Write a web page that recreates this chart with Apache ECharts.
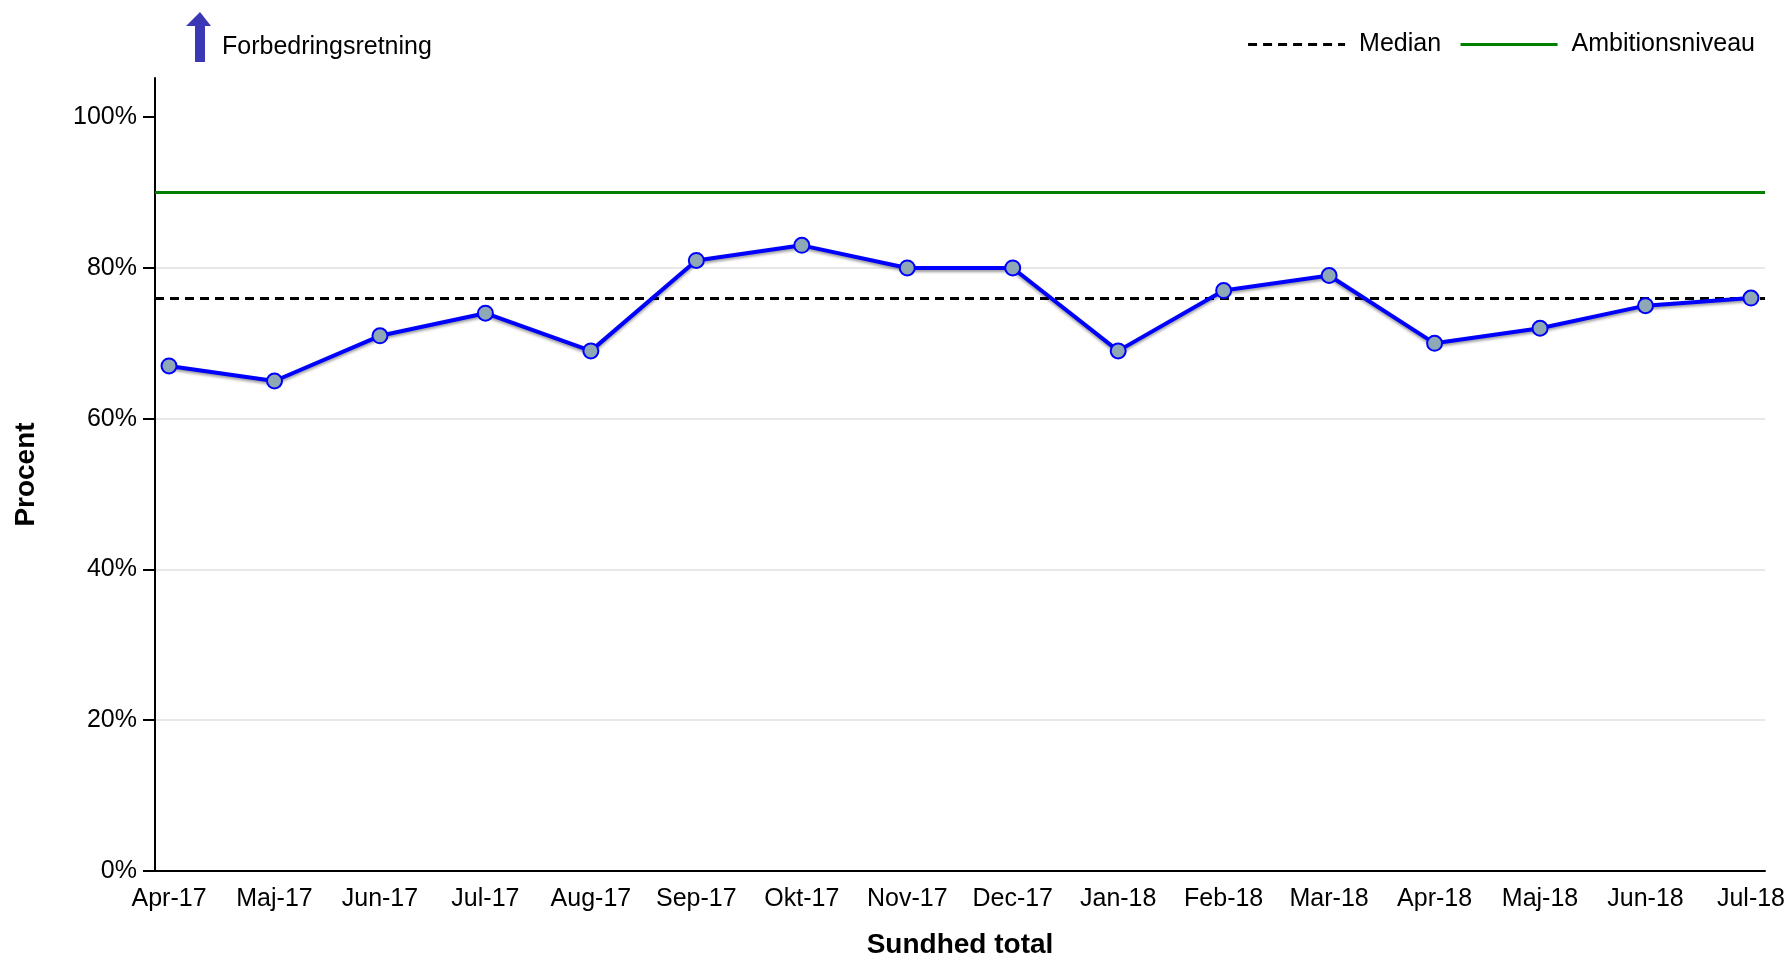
<!DOCTYPE html>
<html>
<head>
<meta charset="utf-8">
<script src="https://cdn.jsdelivr.net/npm/echarts@6/dist/echarts.min.js"></script>
<style>
    html, body { margin: 0; padding: 0; background: #fff; }
    #chart { width: 1789px; height: 956px; }
</style>
</head>
<body>
<div id="chart"></div>
<script>
// måneder og andel (procent)
const MONTHS = ["Apr-17", "Maj-17", "Jun-17", "Jul-17", "Aug-17", "Sep-17", "Okt-17", "Nov-17",
    "Dec-17", "Jan-18", "Feb-18", "Mar-18", "Apr-18", "Maj-18", "Jun-18", "Jul-18"]
const VALUES = [67, 65, 71, 74, 69, 81, 83, 80, 80, 69, 77, 79, 70, 72, 75, 76]
const MEDIAN = 76
const AMBITION = 90
const Y_TICKS = [0, 20, 40, 60, 80, 100]

const FONT = "'Liberation Sans', Arial, sans-serif"
const xIdx = MONTHS.map((m, i) => i)

const medianStyle = { color: "#000", width: 3, type: [9, 6] }
const ambitionStyle = { color: "#008000", width: 3, type: "solid" }

const myChart = echarts.init(document.getElementById("chart"))
myChart.setOption({
    animation: false,
    backgroundColor: "#ffffff",
    textStyle: { fontFamily: FONT },
    grid: {
        left: 155,
        right: 24,
        top: 78,
        bottom: 85,
        containLabel: false,
        outerBoundsMode: "none",
    },
    legend: {
        right: 29,
        top: 27,
        itemWidth: 97,
        itemHeight: 14,
        itemGap: 18,
        itemStyle: { color: "transparent", borderWidth: 0, opacity: 0 },
        textStyle: {
            fontSize: 25,
            color: "#000",
            padding: [0, 0, 0, 9],
        },
        data: [
            { name: "Median", lineStyle: medianStyle },
            { name: "Ambitionsniveau", lineStyle: ambitionStyle },
        ],
    },
    xAxis: {
        type: "value",
        min: -0.133,
        max: MONTHS.length - 1 + 0.133,
        name: "Sundhed total",
        nameLocation: "middle",
        nameGap: 60,
        nameTextStyle: { fontSize: 28, fontWeight: "bold", color: "#000" },
        axisLine: { show: true, onZero: false, lineStyle: { color: "#000", width: 2 } },
        axisTick: { show: false },
        splitLine: { show: false },
        axisLabel: {
            customValues: xIdx,
            formatter: v => MONTHS[Math.round(v)],
            fontSize: 25,
            color: "#000",
            margin: 16,
        },
    },
    yAxis: {
        type: "value",
        min: 0,
        max: 105.2,
        name: "Procent",
        nameLocation: "middle",
        nameGap: 115,
        nameTextStyle: { fontSize: 28, fontWeight: "bold", color: "#000" },
        axisLine: { show: true, onZero: false, lineStyle: { color: "#000", width: 2 } },
        axisTick: {
            show: true,
            customValues: Y_TICKS,
            length: 12,
            lineStyle: { color: "#000", width: 2 },
        },
        axisLabel: {
            customValues: Y_TICKS,
            formatter: "{value}%",
            fontSize: 25,
            color: "#000",
            margin: 18,
        },
        splitLine: {
            show: true,
            showMaxLine: false,
            showMinLine: false,
            lineStyle: { color: "#e8e8e8", width: 2 },
        },
    },
    graphic: [
        {
            // forbedringsretning pil
            type: "polygon",
            shape: {
                points: [[200, 12], [211, 26], [205, 26], [205, 62], [195, 62], [195, 26], [186, 26]],
            },
            style: { fill: "#3b38b5" },
        },
        {
            type: "text",
            left: 222,
            top: 35,
            style: {
                text: "Forbedringsretning",
                fontSize: 25,
                fontFamily: FONT,
                fill: "#000",
            },
        },
    ],
    series: [
        {
            name: "Median",
            type: "line",
            data: [],
            symbol: "none",
            lineStyle: medianStyle,
            itemStyle: { color: "#000" },
            markLine: {
                silent: true,
                symbol: "none",
                label: { show: false },
                lineStyle: medianStyle,
                data: [{ yAxis: MEDIAN }],
            },
        },
        {
            name: "Ambitionsniveau",
            type: "line",
            data: [],
            symbol: "none",
            lineStyle: ambitionStyle,
            itemStyle: { color: "#008000" },
            markLine: {
                silent: true,
                symbol: "none",
                label: { show: false },
                lineStyle: ambitionStyle,
                data: [{ yAxis: AMBITION }],
            },
        },
        {
            name: "Sundhed total",
            type: "line",
            z: 5,
            data: VALUES.map((v, i) => [i, v]),
            symbol: "circle",
            symbolSize: 15,
            lineStyle: {
                color: "#0000ff",
                width: 4,
                shadowColor: "rgba(0,0,0,0.4)",
                shadowBlur: 3,
                shadowOffsetY: 2,
            },
            itemStyle: {
                color: "#8ea8b6",
                borderColor: "#0000ff",
                borderWidth: 2,
            },
        },
    ],
})
window.addEventListener("resize", function () {
    myChart.resize()
})
</script>
</body>
</html>
